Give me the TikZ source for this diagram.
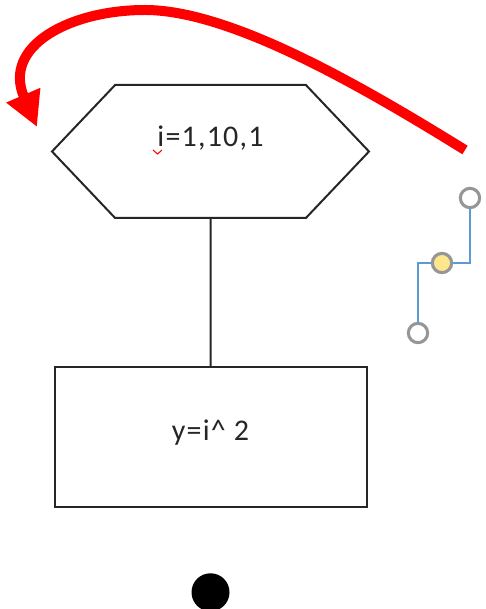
\documentclass[tikz,border=0pt]{standalone}
\usepackage{fontspec}
\setmainfont{Carlito}
\newfontfamily\shapefont[LetterSpace=4]{Carlito}
\usetikzlibrary{positioning, shapes.symbols, arrows.meta}
\definecolor{linkblue}{RGB}{91,155,213}
\definecolor{handlegray}{RGB}{150,150,150}
\definecolor{handleyellow}{RGB}{253,230,140}

\begin{document}
\begin{tikzpicture}[x=0.75pt, y=-0.75pt, >=Latex,
  every node/.style={font=\shapefont\fontsize{22.5pt}{26pt}\selectfont, text=black!85},
  hexa/.style={draw=black!85, line width=1.5pt, signal, signal to=east and west, signal pointer angle=93, minimum width=237.75pt, minimum height=99.75pt, inner sep=0pt, text height=10pt, text depth=18.2pt},
  box/.style={draw=black!85, line width=1.5pt, minimum width=234pt, minimum height=105pt, inner sep=0pt, text height=14pt, text depth=9.5pt},
  enddot/.style={circle, fill=black, minimum size=28.5pt, inner sep=0pt},
  handle/.style={circle, draw=handlegray, line width=2.3pt, fill=white, minimum size=14.5pt, inner sep=0pt},
  loopback/.style={red, line width=7.5pt, -{Triangle[length=26pt, width=26pt]}}]
  \useasboundingbox (0,0) rectangle (485,609);

  \node[hexa] (loop) at (210.5,151.5) {i=1,10,1};
  \node[box, below=110.25pt of loop] (body) {y=i\textasciicircum{} 2};
  \node[enddot, below=48.75pt of body] (stop) {};
  \draw[black!85, line width=1.5pt] (loop) -- (body);

  % spelling mark under the i
  \draw[red, line width=0.8pt] (153,150) -- (157.5,154) -- (162,150);

  % loop back arrow
  \coordinate (arrS) at (465,150);
  \coordinate (arrE) at (37,127);
  \draw[loopback] (arrS) .. controls (360,85) and (230,10) .. (145,10)
    .. controls (70,10) and (2,46) .. (arrE);

  % selected connector handles
  \node[handle] (h1) at (470,198) {};
  \node[handle, fill=handleyellow] (h2) at (442,263) {};
  \node[handle] (h3) at (418,333) {};
  \draw[linkblue, line width=1.6pt] (h1) |- (h2);
  \draw[linkblue, line width=1.6pt] (h2) -| (h3);
\end{tikzpicture}
\end{document}
